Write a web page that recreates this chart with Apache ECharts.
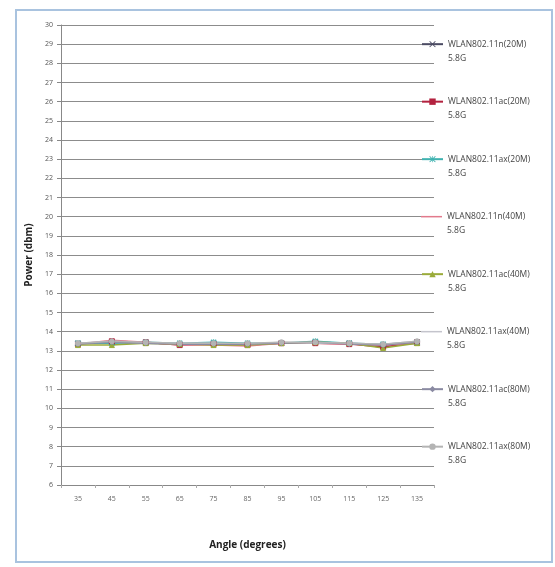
<!DOCTYPE html>
<html><head><meta charset="utf-8">
<script src="https://cdn.jsdelivr.net/npm/echarts@6/dist/echarts.min.js"></script>
<style>html,body{margin:0;padding:0;background:#fff}#c{width:555px;height:567px}</style>
</head><body><div id="c"></div>
<script>
const categories = ['35','45','55','65','75','85','95','105','115','125','135'];
const seriesNames = ['WLAN802.11n(20M)','WLAN802.11ac(20M)','WLAN802.11ax(20M)','WLAN802.11n(40M)','WLAN802.11ac(40M)','WLAN802.11ax(40M)','WLAN802.11ac(80M)','WLAN802.11ax(80M)'];
const band = '5.8G';
const legendRows = [29, 26, 23, 20, 17, 14, 11, 8];
const n20  = [13.40,13.45,13.40,13.35,13.40,13.35,13.40,13.45,13.40,13.30,13.40];
const ac20 = [13.35,13.50,13.45,13.30,13.35,13.30,13.40,13.40,13.35,13.20,13.45];
const ax20 = [13.40,13.40,13.45,13.40,13.45,13.40,13.40,13.50,13.40,13.35,13.45];
const n40  = [13.35,13.55,13.45,13.30,13.30,13.25,13.40,13.40,13.35,13.30,13.40];
const ac40 = [13.30,13.30,13.40,13.35,13.30,13.30,13.40,13.45,13.40,13.15,13.40];
const ax40 = [13.40,13.50,13.40,13.40,13.40,13.35,13.45,13.40,13.40,13.35,13.50];
const ac80 = [13.35,13.45,13.40,13.35,13.35,13.35,13.40,13.45,13.35,13.30,13.45];
const ax80 = [13.40,13.50,13.45,13.40,13.40,13.40,13.45,13.45,13.40,13.35,13.50];
const yTicks = {min:6, max:30, step:1};

const data = [n20, ac20, ax20, n40, ac40, ax40, ac80, ax80];
const colors = ['#4b4b63','#b3223f','#3fb2b0','#e27a8c','#9aab3a','#c4c4cc','#8a8aa2','#b4b4b4'];
const X = 'path://M0,1L1,0L5,4L9,0L10,1L6,5L10,9L9,10L5,6L1,10L0,9L4,5Z';
const AST = 'path://M0,1L1,0L4.5,3.5L4.5,0L5.5,0L5.5,3.5L9,0L10,1L6,5L10,9L9,10L5.5,6.5L5.5,10L4.5,10L4.5,6.5L1,10L0,9L4,5Z';
const symbols = [X,'rect',AST,'none','triangle','none','diamond','circle'];

const G = {left:61,right:121,top:25,bottom:82};
const plotH = 567 - G.top - G.bottom;
const yPix = v => G.top + (yTicks.max - v) * plotH / (yTicks.max - yTicks.min);

const LH = 14;
const legends = seriesNames.map((n,i)=>{
  const noSym = symbols[i]==='none';
  return {
    orient:'vertical',left:416,top:yPix(legendRows[i]) - 1.5*LH - 5,
    itemWidth:21,itemHeight:noSym?1.5:8,itemGap:2,
    data:[noSym?{name:n,icon:'rect'}:{name:n}],
    formatter:s=>' \n'+s+'\n'+band,
    textStyle:{fontFamily:'Open Sans',fontSize:8.5,color:'#444',lineHeight:LH}
  };
});

const chart = echarts.init(document.getElementById('c'));
chart.setOption({
  backgroundColor:'#fff',
  animation:false,
  graphic:[{type:'rect',shape:{x:16,y:10,width:536,height:552},style:{fill:'none',stroke:'#a9c3df',lineWidth:2}}],
  grid:G,
  xAxis:{type:'category',data:categories,boundaryGap:true,
    name:'Angle (degrees)',nameLocation:'middle',nameGap:55,
    nameTextStyle:{fontFamily:'Open Sans',fontWeight:'bold',fontSize:10,color:'#222'},
    axisLine:{lineStyle:{color:'#888',width:1}},
    axisTick:{show:true,length:3,lineStyle:{color:'#aaa'}},
    axisLabel:{fontFamily:'Open Sans',fontSize:7,color:'#666',margin:10}},
  yAxis:{type:'value',min:yTicks.min,max:yTicks.max,interval:yTicks.step,
    name:'Power (dbm)',nameLocation:'middle',nameGap:21,
    nameTextStyle:{fontFamily:'Open Sans',fontWeight:'bold',fontSize:10,color:'#222'},
    axisLine:{show:true,lineStyle:{color:'#888',width:1}},
    axisTick:{show:true,length:4,lineStyle:{color:'#888'}},
    axisLabel:{fontFamily:'Open Sans',fontSize:7,color:'#555',margin:8},
    splitLine:{lineStyle:{color:'#8c8c8c',width:1.2}}},
  legend:legends,
  series:seriesNames.map((n,i)=>({
    name:n,type:'line',data:data[i],
    symbol:symbols[i]==='none'?'circle':symbols[i],symbolSize:5,showSymbol:symbols[i]!=='none',
    lineStyle:{width:1.5,color:colors[i]},
    itemStyle:{color:colors[i],borderColor:colors[i]}
  }))
});
</script></body></html>
